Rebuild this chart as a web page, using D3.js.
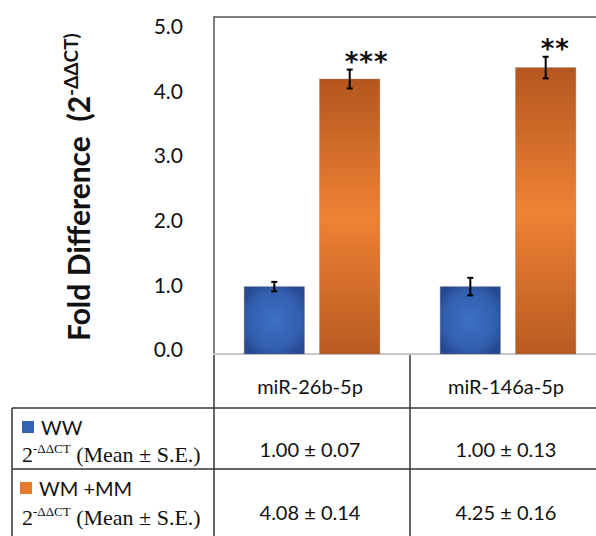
<!DOCTYPE html>
<html>
<head>
<meta charset="utf-8">
<script src="https://cdn.jsdelivr.net/npm/d3@7"></script>
<style>
    body { margin: 0; background: #fff; }
    svg { display: block; }
    .tick-label { font-family: Lato, "Open Sans", sans-serif; font-size: 21px; fill: #111; }
    .cell { font-family: Lato, "Open Sans", sans-serif; font-size: 20px; fill: #111; }
    .serif { font-family: "Liberation Serif", "DejaVu Serif", serif; font-size: 22px; fill: #111; }
</style>
</head>
<body>
<div id="chart"></div>
<script>
var categories = ["miR-26b-5p", "miR-146a-5p"];
var groups = ["WW", "WM +MM"];
var wwMean = [1.00, 1.00];
var wwSE = [0.07, 0.13];
var wmMean = [4.08, 4.25];
var wmSE = [0.14, 0.16];
var stars = ["***", "**"];
var yTicks = [0, 1, 2, 3, 4, 5];
var colors = ["#3563b4", "#e47a30"];

var w = 596;
var h = 536;

var svg = d3.select("#chart")
    .append("svg")
    .attr("width", w)
    .attr("height", h);

var defs = svg.append("defs");

var blueGrad = defs.append("radialGradient")
    .attr("id", "blueGrad")
    .attr("cx", "50%").attr("cy", "50%").attr("r", "60%");
blueGrad.append("stop").attr("offset", "0%").attr("stop-color", "#3d70c6");
blueGrad.append("stop").attr("offset", "70%").attr("stop-color", "#3360b0");
blueGrad.append("stop").attr("offset", "100%").attr("stop-color", "#27498f");

var orangeGrad = defs.append("linearGradient")
    .attr("id", "orangeGrad")
    .attr("x1", 0).attr("y1", 0).attr("x2", 0).attr("y2", 1);
orangeGrad.append("stop").attr("offset", "0%").attr("stop-color", "#b3561f");
orangeGrad.append("stop").attr("offset", "50%").attr("stop-color", "#f08234");
orangeGrad.append("stop").attr("offset", "100%").attr("stop-color", "#b75a21");

var fills = ["url(#blueGrad)", "url(#orangeGrad)"];

var x0 = 214;
var x1 = 606;
var plotTop = 17;
var base = 354;

var xScale = d3.scaleBand()
    .domain(categories)
    .range([x0, x1]);

var xSub = d3.scaleBand()
    .domain(groups)
    .range([0, xScale.bandwidth()])
    .paddingInner(0.2)
    .paddingOuter(0.4);

var yScale = d3.scaleLinear()
    .domain([0, 5])
    .range([base, plotTop]);

// labels sit a little off the gridline positions in the original
var yLabel = d3.scaleLinear()
    .domain([0, 5])
    .range([350, 27]);

// plot frame
svg.append("path")
    .attr("d", "M" + x0 + "," + base + "V" + plotTop + "H" + w)
    .attr("fill", "none")
    .attr("stroke", "#555")
    .attr("stroke-width", 1.5);

svg.append("line")
    .attr("x1", x0).attr("x2", w)
    .attr("y1", base).attr("y2", base)
    .attr("stroke", "#c8c8c8")
    .attr("stroke-width", 2);

// y axis labels
var yAxis = svg.append("g")
    .attr("transform", "translate(183,0)")
    .call(d3.axisLeft(yLabel)
        .tickValues(yTicks)
        .tickSize(0)
        .tickPadding(0)
        .tickFormat(d3.format(".1f")));
yAxis.select(".domain").remove();
yAxis.selectAll("text")
    .attr("class", "tick-label")
    .attr("font-size", null)
    .attr("font-family", null);
yAxis.attr("font-size", null).attr("font-family", null);

// y axis title
var title = svg.append("text")
    .attr("transform", "translate(90,341) rotate(-90)")
    .attr("font-family", "Lato, 'Open Sans', sans-serif")
    .attr("font-weight", "bold")
    .attr("font-size", 30)
    .style("white-space", "pre")
    .attr("fill", "#111");
title.append("tspan").text("Fold Difference  (2");
title.append("tspan").text("-ΔΔCT)")
    .attr("font-size", 19)
    .attr("dy", -12);

// bars
var series = [
    { key: groups[0], mean: wwMean, se: wwSE },
    { key: groups[1], mean: wmMean, se: wmSE }
];

var rows = [];
series.forEach(function(s, si) {
    categories.forEach(function(c, ci) {
        rows.push({ cat: c, key: s.key, si: si, mean: s.mean[ci], se: s.se[ci], ci: ci });
    });
});

svg.selectAll(".bar")
    .data(rows)
    .enter()
    .append("rect")
    .attr("class", "bar")
    .attr("x", function(d) { return xScale(d.cat) + xSub(d.key); })
    .attr("y", function(d) { return yScale(d.mean); })
    .attr("width", xSub.bandwidth())
    .attr("height", function(d) { return base - yScale(d.mean); })
    .attr("fill", function(d) { return fills[d.si]; })
    .attr("stroke", "rgba(120,120,120,0.35)")
    .attr("stroke-width", 1);

// error bars
var err = svg.selectAll(".err")
    .data(rows)
    .enter()
    .append("g")
    .attr("class", "err")
    .attr("stroke", "#000")
    .attr("stroke-width", 2);

function cx(d) { return xScale(d.cat) + xSub(d.key) + xSub.bandwidth() / 2; }

err.append("line")
    .attr("x1", cx).attr("x2", cx)
    .attr("y1", function(d) { return yScale(d.mean + d.se); })
    .attr("y2", function(d) { return yScale(d.mean - d.se); });
err.append("line")
    .attr("x1", function(d) { return cx(d) - 3; })
    .attr("x2", function(d) { return cx(d) + 3; })
    .attr("y1", function(d) { return yScale(d.mean + d.se); })
    .attr("y2", function(d) { return yScale(d.mean + d.se); });
err.append("line")
    .attr("x1", function(d) { return cx(d) - 3; })
    .attr("x2", function(d) { return cx(d) + 3; })
    .attr("y1", function(d) { return yScale(d.mean - d.se); })
    .attr("y2", function(d) { return yScale(d.mean - d.se); });

// significance stars
svg.selectAll(".star")
    .data(rows.filter(function(d) { return d.si === 1; }))
    .enter()
    .append("text")
    .attr("class", "star")
    .text(function(d) { return stars[d.ci]; })
    .attr("x", function(d) { return cx(d) - 5; })
    .attr("y", function(d) { return yScale(d.mean + d.se) + 1; })
    .attr("font-family", "'DejaVu Sans', sans-serif")
    .attr("font-weight", "bold")
    .attr("font-size", 26)
    .attr("letter-spacing", 1)
    .attr("fill", "#111");

// data table
var tableLeft = 12;
var rowLines = [408, 469, 545];
var lineColor = "#333";

var grid = svg.append("g")
    .attr("stroke", lineColor)
    .attr("stroke-width", 1.5);

grid.selectAll(".hline")
    .data(rowLines.slice(0, 2))
    .enter()
    .append("line")
    .attr("x1", tableLeft).attr("x2", w)
    .attr("y1", function(d) { return d; })
    .attr("y2", function(d) { return d; });

grid.append("line")
    .attr("x1", tableLeft).attr("x2", tableLeft)
    .attr("y1", rowLines[0]).attr("y2", h);

grid.selectAll(".vline")
    .data(categories.concat(["end"]))
    .enter()
    .append("line")
    .attr("x1", function(d, i) { return x0 + i * xScale.step(); })
    .attr("x2", function(d, i) { return x0 + i * xScale.step(); })
    .attr("y1", base + 1)
    .attr("y2", h);

// header row
svg.selectAll(".cat")
    .data(categories)
    .enter()
    .append("text")
    .attr("class", "cell")
    .attr("font-size", 21)
    .text(function(d) { return d; })
    .attr("x", function(d) { return xScale(d) + xScale.bandwidth() / 2 - 2; })
    .attr("y", 394)
    .attr("text-anchor", "middle");

// row labels
var rowTop = [rowLines[0], rowLines[1]];
series.forEach(function(s, si) {
    var top = rowTop[si];
    svg.append("rect")
        .attr("x", 22 - si * 2)
        .attr("y", top + 13)
        .attr("width", 12)
        .attr("height", 12)
        .attr("fill", colors[si]);
    svg.append("text")
        .attr("class", "cell")
        .attr("font-size", 22)
        .attr("x", 41 - si * 2)
        .attr("y", top + 27)
        .text(s.key);
    var t = svg.append("text")
        .attr("class", "serif")
        .attr("x", 22)
        .attr("y", top + 54 + si * 2);
    t.append("tspan").text("2");
    t.append("tspan").text("-ΔΔCT").attr("font-size", 13).attr("dy", -9);
    t.append("tspan").text(" (Mean ± S.E.)").attr("dy", 9);

    svg.selectAll(".val" + si)
        .data(categories)
        .enter()
        .append("text")
        .attr("class", "cell")
        .attr("x", function(d) { return xScale(d) + xScale.bandwidth() / 2 - 2; })
        .attr("y", top + 49 + si * 2)
        .attr("text-anchor", "middle")
        .text(function(d, ci) { return s.mean[ci].toFixed(2) + " ± " + s.se[ci].toFixed(2); });
});
</script>
</body>
</html>
